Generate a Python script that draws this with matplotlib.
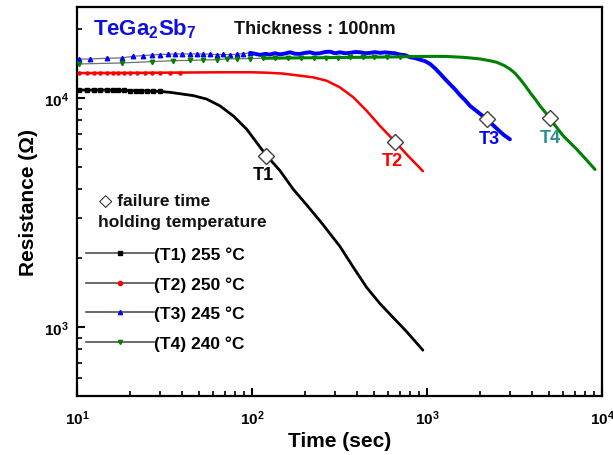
import matplotlib
matplotlib.use("Agg")
import matplotlib.pyplot as plt
from matplotlib.lines import Line2D
from matplotlib.ticker import LogLocator, LogFormatterMathtext, NullFormatter

plt.rcParams['font.family'] = ['Liberation Sans', 'DejaVu Sans']
plt.rcParams['font.weight'] = 'bold'
plt.rcParams['mathtext.fontset'] = 'custom'
plt.rcParams['mathtext.rm'] = 'Liberation Sans:bold'
plt.rcParams['mathtext.it'] = 'Liberation Sans:bold'
plt.rcParams['mathtext.bf'] = 'Liberation Sans:bold'
plt.rcParams['mathtext.default'] = 'rm'

# ---------------- data ----------------
series_names = ["(T1) 255 °C", "(T2) 250 °C", "(T3) 245 °C", "(T4) 240 °C"]
fail_labels = ["T1", "T2", "T3", "T4"]

t1 = [10.3, 11.4, 12.5, 13.6, 14.8, 16.0, 17.2, 18.5, 20.0, 21.6, 23.3, 25.2, 27.3,
      29.7, 34.0, 38.8, 46.3, 55.1, 65.6, 78.2, 93.3, 111, 121.4, 144.5, 172, 205,
      250, 318, 380, 452, 539, 641, 765, 947]
r1 = [10850, 10850, 10850, 10840, 10840, 10830, 10820, 10800, 10790, 10780, 10760,
      10740, 10720, 10700, 10600, 10450, 10250, 9900, 9250, 8360, 7310, 6120, 5600,
      4820, 4000, 3420, 2850, 2250, 1820, 1490, 1265, 1100, 955, 793]

t2 = [10.3, 11.4, 12.5, 13.6, 14.8, 16.0, 17.2, 18.5, 20.0, 22, 24.5, 27, 30, 34, 39,
      45, 52, 60, 70, 82, 97.6, 120, 150, 188, 224, 267, 318, 380, 452, 539, 656,
      765, 947]
r2 = [12870, 12870, 12870, 12880, 12880, 12880, 12890, 12890, 12890, 12900, 12900,
      12910, 12910, 12920, 12930, 12940, 12950, 12960, 12970, 12970, 12970, 12920,
      12800, 12530, 12320, 11910, 11140, 10070, 8800, 7560, 6460, 5680, 4800]

t3 = [10.3, 11.9, 14.8, 18.0, 21.0, 23.9, 26.7, 29.8, 33.2, 36.2, 39.6, 44.3, 48.3,
      52.8, 57.5, 62.8, 68.5, 74.9, 81.7, 89.1, 97.5, 104, 111, 119, 126.6, 135, 144.5,
      154, 164.8, 176, 188, 200, 214.5, 229, 244.7, 261, 279, 298, 318.5, 340, 363, 388,
      414, 442, 472, 505, 539, 576, 615, 657, 701, 750, 800, 855, 913, 975, 1041, 1110,
      1187, 1270, 1354, 1450, 1545, 1650, 1762, 1950, 2193, 2350, 2553, 2750, 2978]
r3 = [14800, 14830, 14930, 14980, 15240, 15330, 15440, 15490, 15550, 15600, 15600,
      15600, 15600, 15570, 15560, 15490, 15520, 15490, 15550, 15650, 15760, 15620,
      15440, 15600, 15500, 15700, 15530, 15650, 15860, 15620, 15600, 15750, 15860,
      15650, 15700, 15900, 15950, 15700, 15860, 15700, 15760, 15900, 15860, 15700,
      15760, 15880, 15760, 15850, 15760, 15700, 15490, 15400, 15080, 14950, 14720,
      14500, 14100, 13500, 12800, 12100, 11500, 10900, 10300, 9800, 9250, 8700, 8090,
      7700, 7260, 6900, 6610]

t4 = [10.3, 18.0, 26.7, 35.5, 44, 52.8, 62.8, 71.5, 81.7, 97.5, 116, 135, 160, 190,
      225, 265, 310, 365, 430, 500, 590, 700, 820, 960, 1120, 1300, 1413, 1650, 2009,
      2250, 2500, 2750, 2978, 3200, 3398, 3650, 3877, 4150, 4424, 4750, 5047, 5500,
      6016, 6550, 7166, 8100, 9120]
r4 = [14100, 14240, 14430, 14570, 14620, 14670, 14720, 14830, 14850, 14880, 14930,
      14950, 14970, 14990, 15000, 15020, 15040, 15060, 15080, 15100, 15120, 15150,
      15180, 15200, 15220, 15200, 15150, 15050, 14830, 14600, 14340, 13900, 13400,
      12800, 12120, 11300, 10590, 9900, 9250, 8650, 8120, 7450, 6830, 6400, 5980,
      5400, 4880]

fail_t = [121, 656, 2193, 5047]
fail_r = [5600, 6460, 8090, 8150]

# ---------------- styles ----------------
colors = ["#000000", "#FF0000", "#0000FF", "#008000"]
markers = ["s", "o", "^", "v"]
msizes = [2.2, 2.2, 3.2, 3.2]
line_w = [2.0, 1.8, 2.8, 2.2]
solid_from = [0, 0, 95, 110]          # where the dense colored trace begins
marker_until = [30, 40, 100, 700]     # where individual markers stop being visible
label_colors = ["#000000", "#FF0000", "#0000FF", "#2F8F8F"]
label_offsets = [(-2, -7.5), (-2, -7.5), (2, -7.5), (0, -7.5)]  # points offset

fig = plt.figure(figsize=(6.13, 4.56), dpi=100)
ax = fig.add_axes([77 / 613, 59 / 456, 525 / 613, 389 / 456])

all_t = [t1, t2, t3, t4]
all_r = [r1, r2, r3, r4]
for i in range(4):
    t, r = all_t[i], all_r[i]
    ax.plot(t, r, color="#707070", lw=0.9, zorder=2)
    idx = [k for k in range(len(t)) if t[k] >= solid_from[i]]
    ax.plot([t[k] for k in idx], [r[k] for k in idx], color=colors[i],
            lw=line_w[i], solid_capstyle="round", solid_joinstyle="round", zorder=3)
    mk = [k for k in range(len(t)) if t[k] <= marker_until[i]]
    ax.plot([t[k] for k in mk], [r[k] for k in mk], linestyle="none",
            marker=markers[i], ms=msizes[i], mfc=colors[i], mec=colors[i], zorder=4)

ax.plot(fail_t, fail_r, linestyle="none", marker="D", ms=8, mfc="white",
        mec="#404040", mew=1.0, zorder=5)
for i in range(4):
    ax.annotate(fail_labels[i], (fail_t[i], fail_r[i]), xytext=label_offsets[i],
                textcoords="offset points", ha="center", va="top",
                fontsize=13, fontweight="bold", color=label_colors[i], zorder=6)

ax.set_xscale("log")
ax.set_yscale("log")
ax.set_xlim(10, 10000)
ax.set_ylim(500, 25000)

for s in ax.spines.values():
    s.set_linewidth(1.6)

ax.xaxis.set_major_locator(LogLocator(base=10, numticks=10))
ax.yaxis.set_major_locator(LogLocator(base=10, numticks=10))
ax.xaxis.set_minor_locator(LogLocator(base=10, subs=range(2, 10), numticks=20))
ax.yaxis.set_minor_locator(LogLocator(base=10, subs=range(2, 10), numticks=20))
ax.xaxis.set_major_formatter(LogFormatterMathtext())
ax.yaxis.set_major_formatter(LogFormatterMathtext())
ax.xaxis.set_minor_formatter(NullFormatter())
ax.yaxis.set_minor_formatter(NullFormatter())
ax.tick_params(which="major", direction="in", length=6, width=1.5, labelsize=11,
               top=False, right=False)
ax.tick_params(which="minor", direction="in", length=3.5, width=1.2,
               top=False, right=False)
ax.tick_params(axis="x", which="major", pad=9)
ax.tick_params(axis="y", which="major", pad=6)

ax.set_xlabel("Time (sec)", fontsize=15, fontweight="bold", labelpad=3)
ax.set_ylabel("Resistance (Ω)", fontsize=15, fontweight="bold", labelpad=4)

ax.text(0.03, 0.945, "TeGa$_2$Sb$_7$", transform=ax.transAxes, fontsize=16,
        color="#1010E0", ha="left", va="center")
ax.text(0.30, 0.945, "Thickness : 100nm", transform=ax.transAxes, fontsize=13,
        fontweight="bold", color="#111111", ha="left", va="center")

ax.text(0.042, 0.502, "◇ failure time", transform=ax.transAxes, fontsize=12.5,
        fontweight="bold", ha="left", va="center", color="#111111")
ax.text(0.040, 0.448, "holding temperature", transform=ax.transAxes, fontsize=12.5,
        fontweight="bold", ha="left", va="center", color="#111111")

handles = [Line2D([], [], color="#505050", lw=1.2, marker=markers[i], ms=3,
                  mfc=colors[i], mec=colors[i]) for i in range(4)]
ax.legend(handles, series_names, loc="upper left", bbox_to_anchor=(0.018, 0.385),
          frameon=False, fontsize=12.5, handlelength=3.9, handletextpad=0.0,
          labelspacing=0.82, borderpad=0, borderaxespad=0,
          prop={"weight": "bold", "size": 12.5})

fig.savefig("out.png", dpi=100)
